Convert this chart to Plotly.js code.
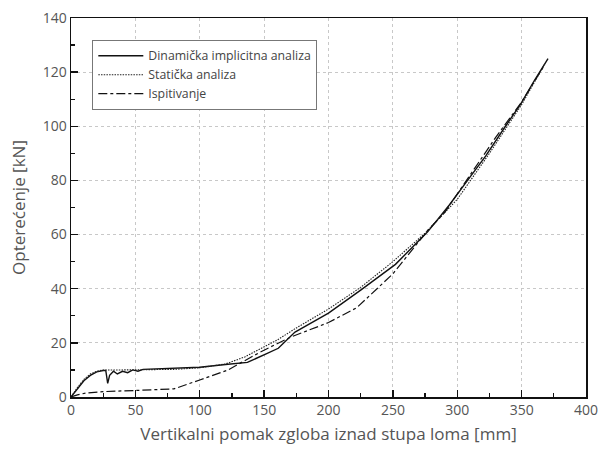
<!DOCTYPE html>
<html>
<head>
<meta charset="utf-8">
<script src="https://cdn.plot.ly/plotly-3.0.1.min.js"></script>
<style>
  html, body { margin: 0; padding: 0; background: #fff; }
  #chart { width: 601px; height: 452px; }
</style>
</head>
<body>
<div id="chart"></div>
<script>
// Vertical displacement [mm] and load [kN] for each analysis
const dinamickaX = [0, 5, 10, 15, 20, 25, 27, 28.5, 30, 33, 36, 40, 44, 48, 52, 56, 62, 80, 100, 120, 137, 152, 161, 174, 200, 225, 252, 277, 294, 308, 322, 336, 349, 360, 370.5];
const dinamickaY = [0, 3, 6, 8, 9.3, 9.8, 9.8, 5, 8, 9.5, 8.5, 9.5, 9, 10, 9.5, 10.2, 10.3, 10.6, 11, 12, 12.8, 16, 18, 24, 31, 39.5, 49, 61, 71, 80, 89, 99, 108, 117, 125];

const statickaX = [0, 5, 10, 15, 20, 25, 40, 60, 80, 100, 120, 135, 147, 160, 175, 200, 225, 250, 275, 300, 325, 350, 368];
const statickaY = [0, 3.5, 6.5, 8.5, 9.5, 10, 10, 10, 10.2, 10.8, 12.2, 14.8, 17.7, 21, 25.5, 32.5, 40.5, 50, 60.5, 73, 90, 108, 123];

const ispitivanjeX = [0, 5, 12, 25, 50, 80, 100, 122, 147, 170, 200, 222, 250, 277, 290, 310, 330, 350, 367];
const ispitivanjeY = [0, 0.8, 1.5, 2, 2.4, 3, 6.3, 10, 16.6, 22, 27.5, 33, 45.5, 61.5, 68, 82, 96, 109, 122];

const seriesNames = ['Dinamička implicitna analiza', 'Statička analiza', 'Ispitivanje'];
const xTitle = 'Vertikalni pomak zgloba iznad stupa loma [mm]';
const yTitle = 'Opterećenje [kN]';

const traces = [
  { x: dinamickaX, y: dinamickaY, name: seriesNames[0], mode: 'lines',
    line: { color: '#111', width: 1.4, dash: 'solid' } },
  { x: statickaX, y: statickaY, name: seriesNames[1], mode: 'lines',
    line: { color: '#222', width: 1.1, dash: '1.5px,1.2px' } },
  { x: ispitivanjeX, y: ispitivanjeY, name: seriesNames[2], mode: 'lines',
    line: { color: '#111', width: 1.2, dash: 'dashdot' } }
];

const axisCommon = {
  showline: true, linecolor: '#111', linewidth: 1.5, mirror: true,
  ticks: 'inside', ticklen: 7, tickwidth: 1.4, tickcolor: '#111',
  showgrid: true, gridcolor: '#c8c8c8', griddash: 'dot', gridwidth: 1,
  zeroline: false,
  tickfont: { family: 'Open Sans, sans-serif', size: 14, color: '#555' }
};

const layout = {
  width: 601, height: 452,
  margin: { l: 71, r: 15, t: 18, b: 55 },
  paper_bgcolor: '#fff', plot_bgcolor: '#fff',
  font: { family: 'Open Sans, sans-serif', color: '#555' },
  showlegend: true,
  legend: {
    x: 0.041, y: 0.942, xanchor: 'left', yanchor: 'top',
    bgcolor: '#fff', bordercolor: '#777', borderwidth: 1.2,
    font: { family: 'Open Sans, sans-serif', size: 12.3, color: '#444' },
    itemwidth: 45, tracegroupgap: 0
  },
  xaxis: Object.assign({}, axisCommon, {
    range: [0, 400], dtick: 50, tick0: 0,
    minor: { ticks: 'inside', ticklen: 4, dtick: 25, tickcolor: '#111', tickwidth: 1.2, showgrid: false },
    title: { text: xTitle, font: { family: 'Open Sans, sans-serif', size: 17, color: '#555' }, standoff: 10 }
  }),
  yaxis: Object.assign({}, axisCommon, {
    range: [0, 140], dtick: 20, tick0: 0,
    minor: { ticks: 'inside', ticklen: 4, dtick: 10, tickcolor: '#111', tickwidth: 1.2, showgrid: false },
    title: { text: yTitle, font: { family: 'Open Sans, sans-serif', size: 17, color: '#555' }, standoff: 12 }
  })
};

Plotly.newPlot('chart', traces, layout, { displayModeBar: false, staticPlot: true });
</script>
</body>
</html>
